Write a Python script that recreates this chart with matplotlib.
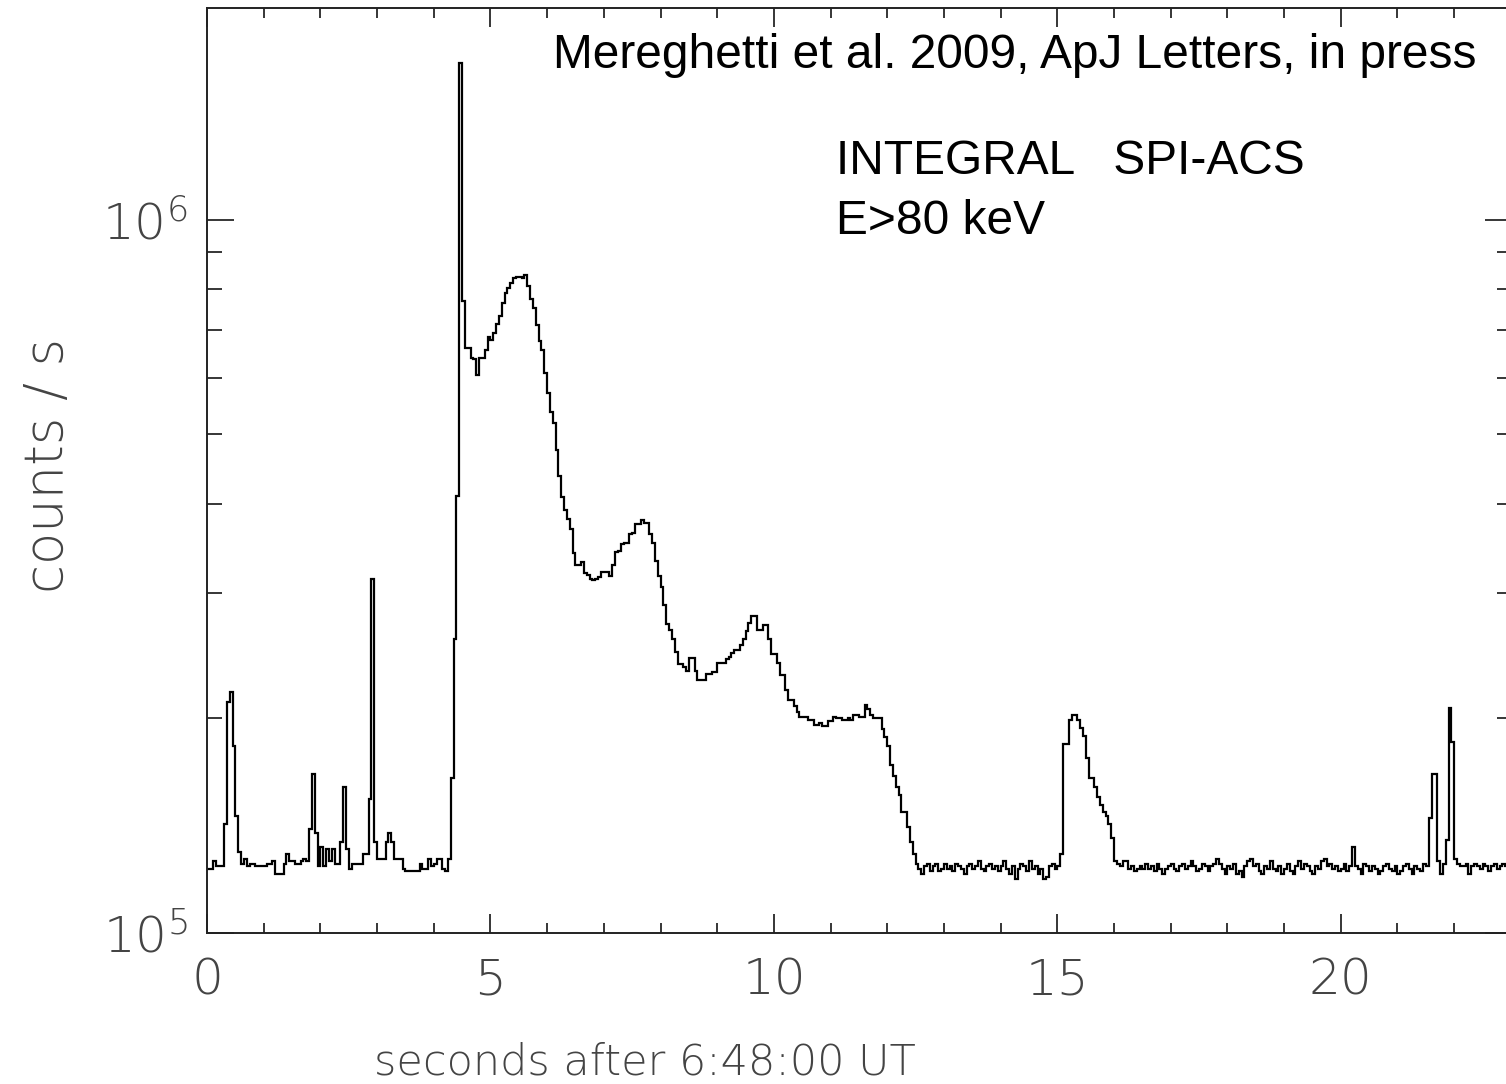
import matplotlib
matplotlib.use('Agg')
import matplotlib.pyplot as plt
from matplotlib.ticker import FixedLocator, LogLocator, MultipleLocator, NullFormatter
import numpy as np

# SPI-ACS light curve, 50 ms bins, rate in units of 1000 counts/s
bin_width = 0.05
rate_k = [
    123, 123, 126, 124, 124, 124, 142, 211, 218, 183, 146, 130, 125, 127, 124, 125, 125, 124, 124, 124,
    124, 125, 125, 126, 121, 121, 121, 125, 129, 126, 126, 125, 125, 126, 127, 126, 140, 167, 138, 124,
    132, 124, 131, 126, 131, 125, 125, 134, 160, 131, 123, 125, 125, 125, 125, 129, 129, 154, 313, 134,
    127, 127, 127, 134, 138, 134, 127, 127, 127, 123, 122, 122, 122, 122, 122, 125, 123, 123, 127, 124,
    125, 127, 127, 123, 122, 127, 165, 258, 410, 1660, 768, 661, 661, 640, 637, 606, 640, 640, 657, 684,
    679, 694, 715, 733, 765, 790, 803, 816, 827, 832, 832, 828, 835, 806, 775, 752, 712, 675, 657, 610,
    572, 538, 519, 476, 437, 408, 392, 380, 368, 341, 328, 328, 331, 320, 318, 314, 312, 313, 316, 321,
    321, 321, 317, 328, 342, 343, 351, 352, 352, 362, 364, 375, 375, 379, 376, 376, 362, 352, 332, 317,
    306, 288, 271, 266, 258, 248, 238, 238, 236, 233, 243, 243, 233, 226, 226, 226, 231, 231, 232, 232,
    239, 239, 239, 242, 244, 247, 249, 249, 253, 258, 265, 272, 278, 278, 266, 266, 270, 270, 258, 246,
    246, 239, 230, 230, 219, 212, 212, 208, 204, 201, 201, 201, 199, 199, 196, 196, 197, 195, 195, 198,
    198, 201, 200, 200, 199, 199, 200, 199, 202, 202, 201, 201, 209, 206, 202, 200, 200, 200, 193, 188,
    183, 172, 166, 160, 156, 148, 148, 141, 134, 129, 125, 123, 121, 124, 125, 122, 124, 125, 122, 123,
    125, 123, 124, 122, 125, 124, 123, 121, 124, 125, 123, 124, 126, 123, 122, 124, 125, 123, 124, 122,
    124, 126, 123, 121, 124, 119, 123, 125, 124, 122, 126, 123, 124, 121, 123, 119, 120, 124, 125, 123,
    124, 129, 184, 184, 199, 202, 202, 199, 194, 189, 176, 165, 165, 160, 155, 151, 148, 146, 142, 136,
    126, 125, 124, 126, 126, 123, 124, 122, 123, 124, 123, 125, 123, 124, 122, 125, 123, 121, 123, 124,
    125, 123, 122, 124, 125, 123, 124, 126, 124, 122, 123, 125, 124, 122, 124, 125, 127, 125, 123, 121,
    124, 123, 125, 121, 122, 120, 124, 126, 127, 124, 125, 122, 121, 124, 123, 126, 123, 122, 124, 121,
    123, 125, 122, 121, 124, 126, 123, 125, 124, 122, 121, 124, 123, 126, 127, 124, 125, 123, 124, 122,
    123, 125, 122, 124, 132, 124, 123, 121, 125, 124, 122, 124, 123, 121, 122, 124, 125, 123, 122, 124,
    121, 122, 124, 125, 123, 121, 124, 123, 122, 125, 124, 145, 167, 167, 126, 121, 125, 135, 207, 185,
    127, 125, 124, 124, 125, 121, 124, 125, 124, 123, 125, 124, 122, 124, 125, 123, 124, 125, 124, 123,
]

x_ticks = [0, 5, 10, 15, 20]
x_tick_labels = ['0', '5', '10', '15', '20']
y_ticks = [1e5, 1e6]
y_tick_labels = [r'$\mathregular{10^{5}}$', r'$\mathregular{10^{6}}$']

rate = np.array(rate_k) * 1000.0
edges = np.arange(len(rate) + 1) * bin_width

W, H = 1506, 1084
fig = plt.figure(figsize=(W / 100, H / 100), dpi=100)
# right spine sits just outside the picture, as in the original crop
ax = fig.add_axes([207 / W, 1 - 933 / H, (1512 - 207) / W, (933 - 8) / H])

ax.stairs(rate, edges, color='black', linewidth=1.6, baseline=None)

ax.set_yscale('log')
ax.set_xlim(0, 23.02)
ax.set_ylim(1e5, 1.98e6)

ax.xaxis.set_major_locator(FixedLocator(x_ticks))
ax.set_xticklabels(x_tick_labels)
ax.xaxis.set_minor_locator(MultipleLocator(1))
ax.yaxis.set_major_locator(FixedLocator(y_ticks))
ax.set_yticklabels(y_tick_labels)
ax.yaxis.set_minor_locator(LogLocator(base=10, subs=range(2, 10)))
ax.yaxis.set_minor_formatter(NullFormatter())

ax.tick_params(which='both', direction='in', top=True, right=True, width=1.1, color='black')
ax.tick_params(axis='x', which='major', length=14, pad=17, labelsize=36, labelcolor='#444444')
ax.tick_params(axis='x', which='minor', length=7.5)
ax.tick_params(axis='y', which='major', length=19.5, pad=14, labelsize=36, labelcolor='#444444')
ax.tick_params(axis='y', which='minor', length=11)
for lab in ax.get_xticklabels() + ax.get_yticklabels():
    lab.set_fontweight('light')

for sp in ax.spines.values():
    sp.set_linewidth(1.4)
    sp.set_color('#222222')

fig.text(645 / W, 1 - 1062 / H, 'seconds after 6:48:00 UT', ha='center', va='center',
         fontsize=31, fontweight='light', color='#444444')
fig.text(48 / W, 1 - 465 / H, 'counts / s', rotation=90, ha='center', va='center',
         fontsize=38, fontweight='light', color='#444444')

fig.text(553 / W, 1 - 68 / H, 'Mereghetti et al. 2009, ApJ Letters, in press',
         family='Liberation Sans', fontsize=34.5, ha='left', va='baseline')
fig.text(836 / W, 1 - 174 / H, 'INTEGRAL   SPI-ACS',
         family='Liberation Sans', fontsize=34.5, ha='left', va='baseline')
fig.text(836 / W, 1 - 234 / H, 'E>80 keV',
         family='Liberation Sans', fontsize=34.5, ha='left', va='baseline')

fig.savefig('out.png', dpi=100)
